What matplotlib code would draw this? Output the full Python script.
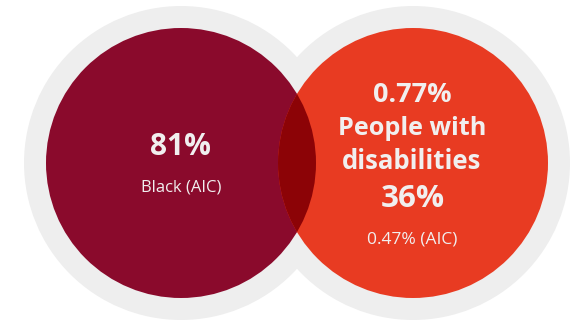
import matplotlib.pyplot as plt
from matplotlib.patches import Circle

# values shown in the two circles
left_pct = 81
left_label = "Black (AIC)"
right_top_pct = 0.77
right_label = ["People with", "disabilities"]
right_pct = 36
right_sub_pct = 0.47

plt.rcParams['font.family'] = ['Open Sans', 'DejaVu Sans']

fig = plt.figure(figsize=(5.72, 3.21), dpi=100)
ax = fig.add_axes([0, 0, 1, 1])
ax.set_xlim(0, 572)
ax.set_ylim(321, 0)
ax.set_aspect('equal')
ax.axis('off')

# pale halos behind each circle
for cx in (181, 413):
    ax.add_patch(Circle((cx, 163), 157, color='#eeeeee', lw=0, zorder=1))

ax.add_patch(Circle((181, 163), 135, color='#8a0a2c', lw=0, zorder=2))
ax.add_patch(Circle((413, 163), 135, color='#e83b22', lw=0, zorder=3))
# overlap, drawn darker
ov = Circle((181, 163), 135, color='#8c0306', lw=0, zorder=4)
ax.add_patch(ov)
ov.set_clip_path(Circle((413, 163), 135, transform=ax.transData))

txt = '#f1efef'
ax.text(180, 155, f"{left_pct}%", ha='center', va='baseline', color=txt,
        fontsize=21.5, fontweight='bold', zorder=5)
ax.text(181, 192, left_label, ha='center', va='baseline', color=txt,
        fontsize=12, zorder=5)

ax.text(412, 102, f"{right_top_pct}%", ha='center', va='baseline', color=txt,
        fontsize=19.5, fontweight='bold', zorder=5)
for line, base, fs in zip(right_label, (135, 169), (18.2, 18.5)):
    ax.text(412, base, line, ha='center', va='baseline', color=txt,
            fontsize=fs, fontweight='bold', zorder=5)
ax.text(413, 207, f"{right_pct}%", ha='center', va='baseline', color=txt,
        fontsize=22.5, fontweight='bold', zorder=5)
ax.text(412, 244, f"{right_sub_pct}% (AIC)", ha='center', va='baseline',
        color=txt, fontsize=12.5, zorder=5)

fig.savefig('out.png', dpi=100)
